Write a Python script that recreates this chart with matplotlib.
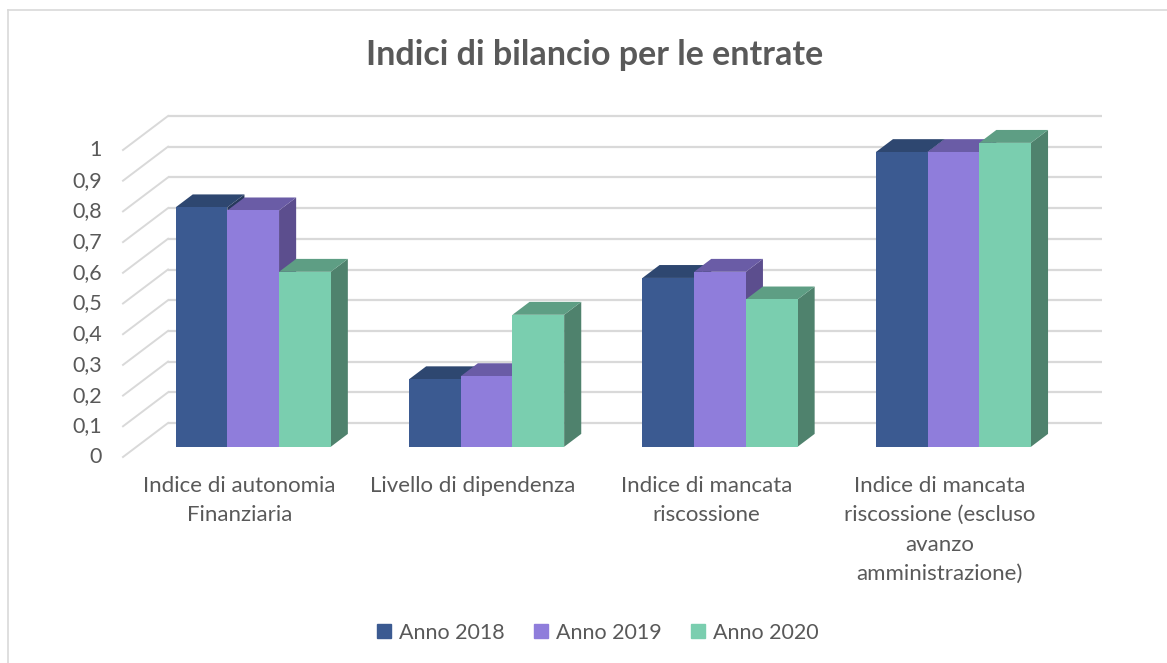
import matplotlib
matplotlib.use('Agg')
import matplotlib.pyplot as plt
from matplotlib.patches import Polygon, Rectangle
from matplotlib.lines import Line2D

# ---- data ----
categories = ['Indice di autonomia\nFinanziaria', 'Livello di dipendenza',
              'Indice di mancata\nriscossione',
              'Indice di mancata\nriscossione (escluso\navanzo\namministrazione)']
series = ['Anno 2018', 'Anno 2019', 'Anno 2020']
anno_2018 = [0.78, 0.22, 0.55, 0.96]
anno_2019 = [0.77, 0.23, 0.57, 0.96]
anno_2020 = [0.57, 0.43, 0.48, 0.99]
ticks = [0, 0.1, 0.2, 0.3, 0.4, 0.5, 0.6, 0.7, 0.8, 0.9, 1]
values = [anno_2018, anno_2019, anno_2020]

# face / top / side colours for each series
front_c = ['#3B5A91', '#8F7DDB', '#7ACEAF']
top_c = ['#2E4770', '#6A5CA6', '#5E9E84']
side_c = ['#27395C', '#5C4E8E', '#4F826D']

plt.rcParams['font.family'] = ['Lato', 'DejaVu Sans']
txt = '#595959'
grid = '#D9D9D9'

W, H = 1167, 663
fig = plt.figure(figsize=(W / 100, H / 100), dpi=100)

# axes: x in category units, y in value units (front plane)
px_cat = 233.4   # pixels per category
px_val = 307.0   # pixels per 1.0
x_left_px, x_right_px = 123, 1105
y0_px, ytop_px = 457, 116
ax = fig.add_axes([x_left_px / W, (H - y0_px) / H,
                   (x_right_px - x_left_px) / W, (y0_px - ytop_px) / H])
xmin = -0.5
ax.set_xlim(xmin, xmin + (x_right_px - x_left_px) / px_cat)
ax.set_ylim(0, (y0_px - ytop_px) / px_val)
ax.axis('off')

# depth vector of the floor (front edge -> back wall)
dx = 45 / px_cat
dy = 34 / px_val
n = len(categories)
xmax = n - 0.5

# gridlines on back wall + diagonals on side wall
for v in ticks:
    ax.plot([xmin + dx, xmax + dx], [v + dy, v + dy], color=grid, lw=1.6,
            clip_on=False, zorder=1, solid_capstyle='butt')
    ax.plot([xmin, xmin + dx], [v, v + dy], color=grid, lw=1.4,
            clip_on=False, zorder=1)
    ax.text(xmin - 0.09, v, f'{v:g}'.replace('.', ','), ha='right', va='center',
            fontsize=15.5, color=txt)

# bars
df, db = 0.3, 0.68
bw = 0.2215
for i in range(n):
    gx = i - 1.5 * bw + df * dx
    base = df * dy
    sdx, sdy = (db - df) * dx, (db - df) * dy
    for j in range(len(series)):
        v = values[j][i]
        x0 = gx + j * bw
        z = 3 + j
        ax.add_patch(Polygon([(x0 + bw, base), (x0 + bw + sdx, base + sdy),
                              (x0 + bw + sdx, base + v + sdy), (x0 + bw, base + v)],
                             closed=True, fc=side_c[j], ec='none', zorder=z, clip_on=False))
        ax.add_patch(Polygon([(x0, base + v), (x0 + bw, base + v),
                              (x0 + bw + sdx, base + v + sdy), (x0 + sdx, base + v + sdy)],
                             closed=True, fc=top_c[j], ec='none', zorder=z, clip_on=False))
        ax.add_patch(Rectangle((x0, base), bw, v, fc=front_c[j], ec='none',
                               zorder=z, clip_on=False))

# category labels
for i, c in enumerate(categories):
    ax.text(i, -0.062, c, ha='center', va='top', fontsize=16, color=txt,
            linespacing=1.58)

fig.text(595 / W, 1 - 55 / H, 'Indici di bilancio per le entrate', ha='center',
         va='center', fontsize=24.5, fontweight='bold', color=txt)

handles = [Line2D([], [], marker='s', ls='none', markersize=10.5, markerfacecolor=c,
                  markeredgecolor=c) for c in front_c]
fig.legend(handles, series, loc='center', bbox_to_anchor=(597 / W, 1 - 633 / H),
           ncol=3, frameon=False, fontsize=15.5, handlelength=0.8, handletextpad=0.3,
           columnspacing=1.3, labelcolor=txt)

# outer frame (top and left edges)
fig.add_artist(Line2D([8 / W, 1], [1 - 10 / H, 1 - 10 / H], color='#D9D9D9', lw=1.2))
fig.add_artist(Line2D([8 / W, 8 / W], [0, 1 - 10 / H], color='#D9D9D9', lw=1.2))

fig.savefig('out.png', dpi=100, facecolor='white')
